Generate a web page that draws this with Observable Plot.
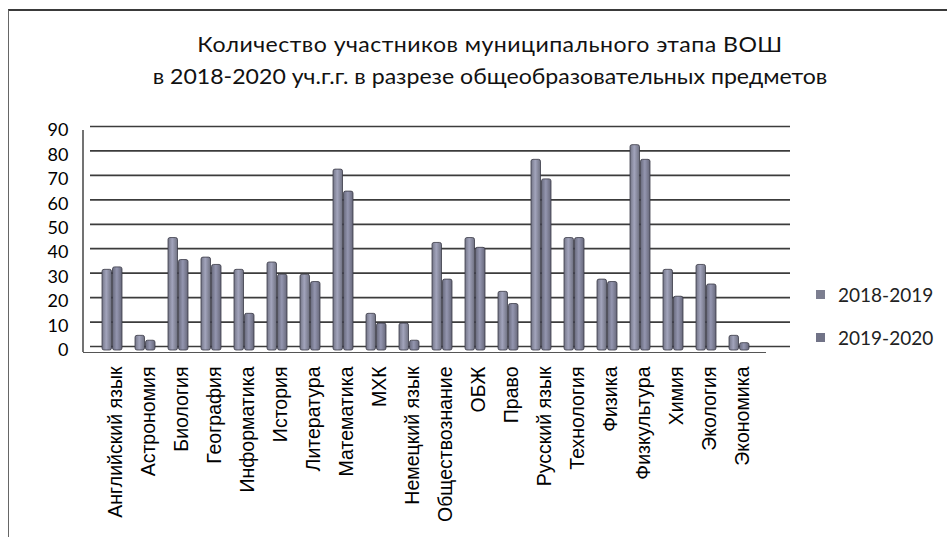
<!DOCTYPE html>
<html><head><meta charset="utf-8">
<script src="https://cdn.jsdelivr.net/npm/d3@7"></script>
<script src="https://cdn.jsdelivr.net/npm/@observablehq/plot@0.6"></script>
<style>
body{margin:0;background:#fff}
#wrap{position:relative;width:947px;height:537px;overflow:hidden;background:#fff}
#border{position:absolute;left:8px;top:9px;width:980px;height:600px;border-top:2px solid #3a3a3a;border-left:1.5px solid #666}
#title{position:absolute;left:0;width:980px;top:28px;text-align:center;font-family:Lato,sans-serif;font-size:21px;line-height:32px;color:#111;transform:scaleX(1.1);transform-origin:490px 0}
#title span{letter-spacing:0.4px}
#chart{position:absolute;left:0;top:0}
#legend{position:absolute;left:816px;top:283px;font-family:Lato,sans-serif;font-size:19px;color:#222}
#legend div{height:43px;display:flex;align-items:flex-start}
#legend span.sw{display:inline-block;width:9px;height:9px;margin-right:13px;margin-top:7px}
</style></head>
<body>
<div id="wrap">
  <div id="border"></div>
  <div id="chart"></div>
  <div id="title"><span>Количество участников муниципального этапа ВОШ</span><br>в 2018-2020 уч.г.г. в разрезе общеобразовательных предметов</div>
  <div id="legend"></div>
</div>
<script>
const subjects = ["Английский язык","Астрономия","Биология","География","Информатика","История","Литература","Математика","МХК","Немецкий язык","Обществознание","ОБЖ","Право","Русский язык","Технология","Физика","Физкультура","Химия","Экология","Экономика"];
const v2018 = [33, 6, 46, 38, 33, 36, 31, 74, 15, 11, 44, 46, 24, 78, 46, 29, 84, 33, 35, 6];
const v2019 = [34, 4, 37, 35, 15, 31, 28, 65, 11, 4, 29, 42, 19, 70, 46, 28, 78, 22, 27, 3];
const seriesNames = ["2018-2019", "2019-2020"];
const seriesColors = ["#8a8ca0", "#7e8096"];
const yTicks = [0, 10, 20, 30, 40, 50, 60, 70, 80, 90];

const d18 = subjects.map((s, i) => ({subject: s, value: v2018[i]}));
const d19 = subjects.map((s, i) => ({subject: s, value: v2019[i]}));

const defs = () => {
  const g = d3.create("svg:defs");
  seriesColors.forEach((c, k) => {
    const lg = g.append("linearGradient").attr("id", "cyl" + k).attr("x1", 0).attr("x2", 1).attr("y1", 0).attr("y2", 0);
    lg.append("stop").attr("offset", 0).attr("stop-color", d3.color(c).darker(0.5));
    lg.append("stop").attr("offset", 0.45).attr("stop-color", d3.color(c).brighter(0.45));
    lg.append("stop").attr("offset", 1).attr("stop-color", d3.color(c).darker(0.6));
  });
  return g.node();
};

const leftWall = (index, scales, values, dims) => {
  const y = scales.y;
  return d3.create("svg:line")
    .attr("x1", dims.marginLeft).attr("x2", dims.marginLeft)
    .attr("y1", y(yTicks[yTicks.length - 1])).attr("y2", y(0) + 2)
    .attr("stroke", "#444").attr("stroke-width", 1.5).node();
};

const chart = Plot.plot({
  width: 947,
  height: 537,
  marginLeft: 83,
  marginRight: 157,
  marginTop: 130,
  marginBottom: 187,
  x: {domain: subjects, range: [79, 771], padding: 0.4},
  y: {domain: [0, 90]},
  style: {background: "transparent"},
  marks: [
    defs,
    Plot.ruleY(yTicks, {stroke: "#3c3c3c", strokeWidth: 1.7, dy: -4, insetLeft: 7}),
    Plot.ruleY([0], {stroke: "#555", strokeWidth: 1.2, dy: 2, insetRight: 24}),
    leftWall,
    Plot.axisY({ticks: yTicks, tickSize: 0, tickPadding: 15, fontSize: 18, fontFamily: "Lato", label: null, tickFormat: d => d}),
    Plot.axisX({tickSize: 0, tickRotate: -90, tickPadding: 16, fontSize: 19.5, fontFamily: "Liberation Sans", label: null, dx: 3}),
    Plot.barY(d19, {x: "subject", y: "value", fill: "url(#cyl1)", stroke: "#3a3a46", strokeWidth: 0.8, insetLeft: 10.5, rx: 2}),
    Plot.barY(d18, {x: "subject", y: "value", fill: "url(#cyl0)", stroke: "#3a3a46", strokeWidth: 0.8, insetRight: 10.5, rx: 2})
  ]
});
document.getElementById("chart").appendChild(chart);

const legend = document.getElementById("legend");
seriesNames.forEach((n, k) => {
  const row = document.createElement("div");
  const sw = document.createElement("span");
  sw.className = "sw";
  sw.style.background = d3.color(seriesColors[k]).darker(0.3);
  row.appendChild(sw);
  row.appendChild(document.createTextNode(n));
  legend.appendChild(row);
});
</script>
</body></html>
